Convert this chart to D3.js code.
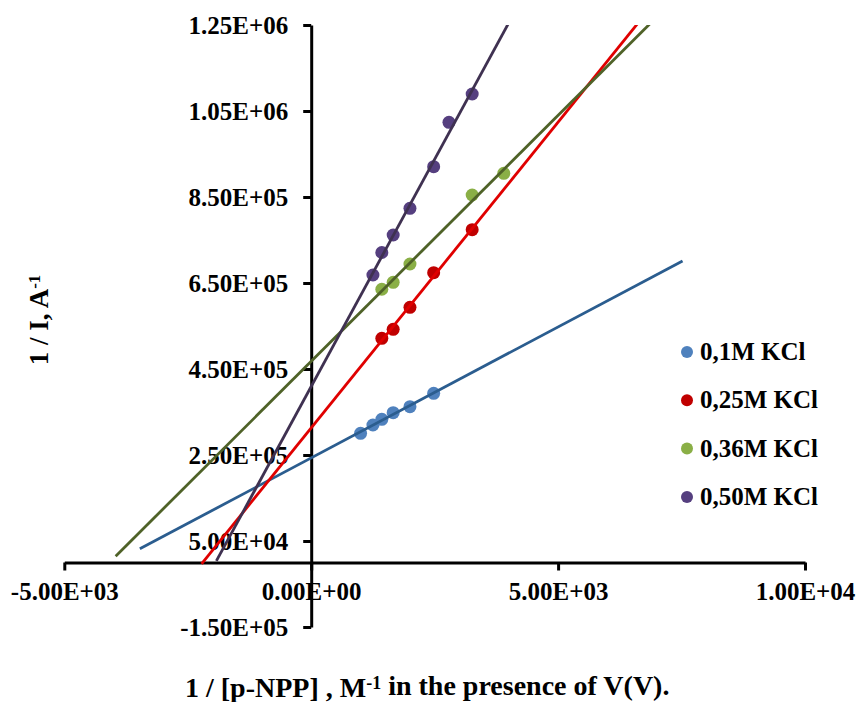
<!DOCTYPE html>
<html>
<head>
<meta charset="utf-8">
<script src="https://cdn.jsdelivr.net/npm/d3@7"></script>
<style>
  body { margin: 0; background: #fff; }
  text { font-family: "Liberation Serif", "Times New Roman", serif; font-weight: bold; fill: #000; }
</style>
</head>
<body>
<div id="chart"></div>
<script>
// 1: Data
var seriesNames = ["0,1M KCl", "0,25M KCl", "0,36M KCl", "0,50M KCl"];

var x01 = [1000, 1250, 1430, 1660, 2000, 2480];
var y01 = [300500, 319800, 333000, 348400, 362300, 393500];

var x025 = [1430, 1660, 2000, 2480, 3260];
var y025 = [521400, 542300, 593500, 674000, 774000];

var x036 = [1430, 1660, 2000, 3260, 3900];
var y036 = [635400, 651600, 694200, 854600, 905100];

var x050 = [1250, 1430, 1660, 2000, 2480, 2790, 3260];
var y050 = [668600, 720900, 761600, 823700, 920500, 1023700, 1089500];

// trendline forecast range (x from / x to)
var lineFrom = [-3470, -2220, -3960, -1920];
var lineTo = [7520, 9000, 9000, 9000];

var xTicks = [-5000, 0, 5000, 10000];
var yTicks = [-150000, 50000, 250000, 450000, 650000, 850000, 1050000, 1250000];

var pointColors = ["#4F81BD", "#C00000", "#8AAF46", "#553F7F"];
var lineColors = ["#2B5D8F", "#E00000", "#4F6228", "#3F3151"];

var xs = [x01, x025, x036, x050];
var ys = [y01, y025, y036, y050];

// 2: SVG
var width = 860, height = 702;
var svg = d3.select("#chart").append("svg")
    .attr("width", width)
    .attr("height", height);

// 3: Scales
var x = d3.scaleLinear()
    .domain([-5000, 10000])
    .range([64.3, 805]);
var y = d3.scaleLinear()
    .domain([-150000, 1250000])
    .range([627, 25]);

function sci(v) {
  var s = v.toExponential(2).toUpperCase();
  return s.replace(/E([+-])(\d)$/, "E$10$2");
}

// linear least squares, like the Excel trendline
function fit(xv, yv) {
  var mx = d3.mean(xv), my = d3.mean(yv);
  var sxy = 0, sxx = 0;
  for (var i = 0; i < xv.length; i++) {
    sxy += (xv[i] - mx) * (yv[i] - my);
    sxx += (xv[i] - mx) * (xv[i] - mx);
  }
  var b = sxy / sxx;
  return {slope: b, icpt: my - b * mx};
}

// 4: Axes
var xAxis = svg.append("g")
    .attr("transform", "translate(0," + y(0) + ")")
    .call(d3.axisBottom(x).tickValues(xTicks).tickFormat(sci)
      .tickSize(8).tickSizeOuter(0).tickPadding(12));

var yAxis = svg.append("g")
    .attr("transform", "translate(" + x(0) + ",0)")
    .call(d3.axisLeft(y).tickValues(yTicks).tickFormat(sci)
      .tickSize(8).tickSizeOuter(0).tickPadding(15));

[xAxis, yAxis].forEach(function(a) {
  a.select(".domain").attr("stroke", "#000").attr("stroke-width", 3);
  a.selectAll(".tick line").attr("stroke", "#000").attr("stroke-width", 3);
  a.selectAll(".tick text").style("font-size", "25px").attr("fill", "#000");
});

// 5: Points and trendlines
svg.append("clipPath").attr("id", "plot")
  .append("rect")
    .attr("x", x(-5000)).attr("y", y(1250000))
    .attr("width", x(10000) - x(-5000))
    .attr("height", y(-150000) - y(1250000));

xs.forEach(function(xv, k) {
  var pts = xv.map(function(d, i) { return {x: d, y: ys[k][i]}; });
  svg.append("g").selectAll("circle")
    .data(pts)
    .enter().append("circle")
      .attr("cx", function(d) { return x(d.x); })
      .attr("cy", function(d) { return y(d.y); })
      .attr("r", 6.5)
      .style("fill", pointColors[k]);
});

xs.forEach(function(xv, k) {
  var f = fit(xv, ys[k]);
  var ends = [lineFrom[k], lineTo[k]].map(function(v) { return [v, f.icpt + f.slope * v]; });
  svg.append("path")
    .datum(ends)
    .attr("clip-path", "url(#plot)")
    .attr("fill", "none")
    .attr("stroke", lineColors[k])
    .attr("stroke-width", 2.8)
    .attr("d", d3.line().x(function(d) { return x(d[0]); }).y(function(d) { return y(d[1]); }));
});

// 6: Legend
var legend = svg.append("g").selectAll("g")
    .data(seriesNames)
    .enter().append("g")
    .attr("transform", function(d, i) { return "translate(687," + (352 + i * 48.3) + ")"; });
legend.append("circle")
    .attr("r", 6)
    .style("fill", function(d, i) { return pointColors[i]; });
legend.append("text")
    .attr("x", 13)
    .attr("y", 8)
    .style("font-size", "25px")
    .text(function(d) { return d; });

// 7: Titles
var yTitle = svg.append("text")
    .attr("transform", "translate(48,320) rotate(-90)")
    .attr("text-anchor", "middle")
    .style("font-size", "27px");
yTitle.append("tspan").text("1 / I, A");
yTitle.append("tspan").attr("dy", "-0.5em").style("font-size", "17px").text("-1");

var xTitle = svg.append("text")
    .attr("x", 185)
    .attr("y", 697)
    .style("font-size", "28px");
xTitle.append("tspan").text("1 / [p-NPP] , M");
xTitle.append("tspan").attr("dy", "-0.45em").style("font-size", "18px").text("-1");
xTitle.append("tspan").attr("dy", "0.2em").text(" in the presence of V(V).");
</script>
</body>
</html>
